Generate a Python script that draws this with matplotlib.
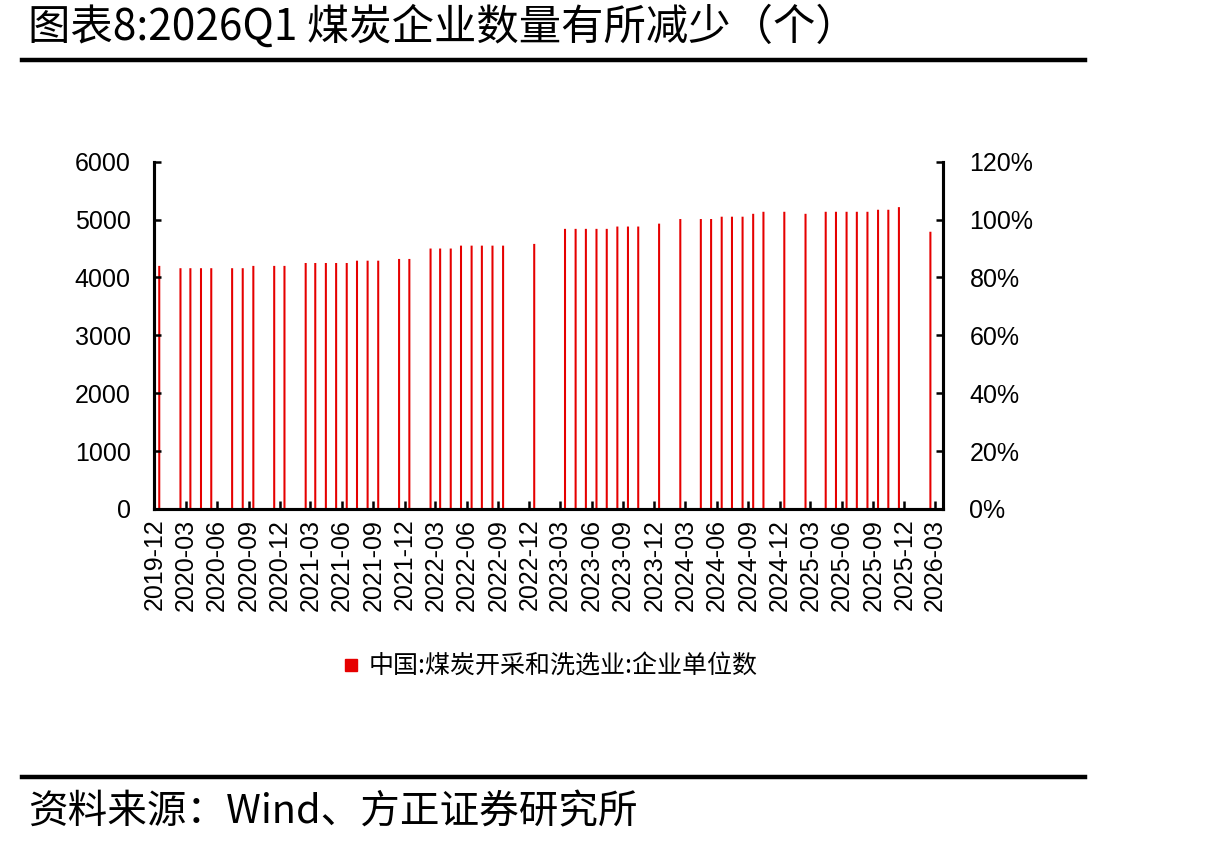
import matplotlib
matplotlib.use("Agg")
import matplotlib.pyplot as plt
import matplotlib.dates as mdates
from matplotlib.lines import Line2D
from matplotlib.ticker import FuncFormatter
import pandas as pd

plt.rcParams['font.family'] = ['Liberation Sans', 'Noto Sans CJK SC', 'DejaVu Sans']
CJK = ['Noto Sans CJK SC', 'DejaVu Sans']

# monthly data (Jan and some months not published)
months = ["2019-12", "2020-02", "2020-03", "2020-04", "2020-05", "2020-07", "2020-08",
          "2020-09", "2020-11", "2020-12", "2021-02", "2021-03", "2021-04", "2021-05",
          "2021-06", "2021-07", "2021-08", "2021-09", "2021-11", "2021-12", "2022-02",
          "2022-03", "2022-04", "2022-05", "2022-06", "2022-07", "2022-08", "2022-09",
          "2022-12", "2023-03", "2023-04", "2023-05", "2023-06", "2023-07", "2023-08",
          "2023-09", "2023-10", "2023-12", "2024-02", "2024-04", "2024-05", "2024-06",
          "2024-07", "2024-08", "2024-09", "2024-10", "2024-12", "2025-02", "2025-04",
          "2025-05", "2025-06", "2025-07", "2025-08", "2025-09", "2025-10", "2025-11",
          "2026-02"]
firms = [4200, 4160, 4160, 4160, 4160, 4160, 4160,
         4200, 4200, 4200, 4250, 4250, 4250, 4250,
         4250, 4290, 4290, 4290, 4320, 4320, 4500,
         4500, 4500, 4550, 4550, 4550, 4550, 4550,
         4580, 4840, 4840, 4840, 4840, 4840, 4880,
         4880, 4880, 4930, 5010, 5010, 5010, 5050,
         5050, 5050, 5100, 5135, 5135, 5100, 5135,
         5135, 5135, 5135, 5135, 5170, 5170, 5215,
         4790]

series_name = "中国:煤炭开采和洗选业:企业单位数"
title = "图表8:2026Q1 煤炭企业数量有所减少（个）"
source = "资料来源：Wind、方正证券研究所"

red = "#E60000"

fig = plt.figure(figsize=(12.23, 8.48), dpi=100)
ax = fig.add_axes([0.1263, 0.3998, 0.7711 - 0.1263, 0.8093 - 0.3998])
ax2 = ax.twinx()

dates = pd.to_datetime(months) + pd.Timedelta(days=14)
ax.bar(dates, firms, width=6, color=red, edgecolor=red, linewidth=0, snap=False)

ax.set_xlim(pd.Timestamp("2019-12-01"), pd.Timestamp("2026-03-24"))
ax.set_ylim(0, 6000)
ax.set_yticks(range(0, 6001, 1000))
ax2.set_ylim(0, 1.2)
ax2.set_yticks([0, 0.2, 0.4, 0.6, 0.8, 1.0, 1.2])
ax2.yaxis.set_major_formatter(FuncFormatter(lambda v, p: "%d%%" % round(v * 100)))

xt = pd.date_range("2019-12-01", "2026-03-01", freq="3MS")
ax.set_xticks(xt)
ax.xaxis.set_major_formatter(mdates.DateFormatter("%Y-%m"))

for a in (ax, ax2):
    a.spines['top'].set_visible(False)
    for s in ('left', 'right', 'bottom'):
        a.spines[s].set_linewidth(2.2)
        a.spines[s].set_color('black')

ax.tick_params(axis='x', direction='in', length=6, width=1.8, labelsize=18,
               labelrotation=90, pad=7)
ax.tick_params(axis='y', direction='in', length=5, width=1.8, labelsize=18, pad=17)
ax2.tick_params(axis='y', direction='in', length=5, width=1.8, labelsize=18, pad=19)

handle = Line2D([], [], marker='s', color=red, linestyle='none', markersize=8)
leg = fig.legend([handle], [series_name], loc='center', bbox_to_anchor=(0.449, 0.2134),
                 frameon=False, prop={'family': CJK, 'size': 18},
                 handletextpad=0.3, handlelength=0.8)

fig.text(0.023, 0.967, title, fontsize=30.5, family=CJK, va='center', ha='left')
fig.add_artist(Line2D([0.018, 0.887], [0.929, 0.929], color='black', linewidth=3.2))
fig.add_artist(Line2D([0.018, 0.887], [0.084, 0.084], color='black', linewidth=3.2))
fig.text(0.023, 0.042, source, fontsize=28.5, family=CJK, va='center', ha='left')

fig.savefig("out.png", dpi=100)
